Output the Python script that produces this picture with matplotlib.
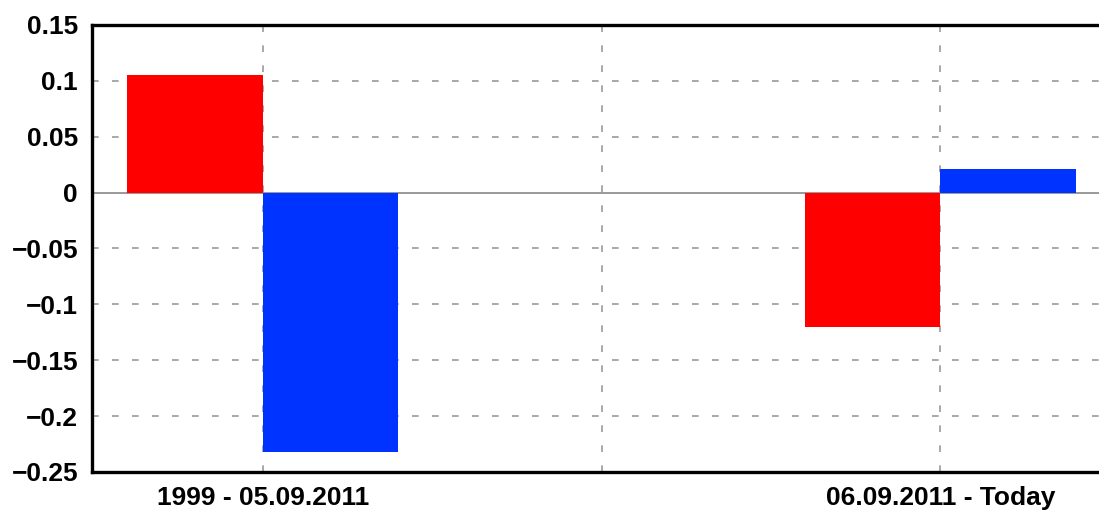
import matplotlib
matplotlib.use("Agg")
import matplotlib.pyplot as plt
import numpy as np

# Data
periods = ["1999 - 05.09.2011", "06.09.2011 - Today"]
red_vals = [0.105, -0.12]
blue_vals = [-0.232, 0.021]
yticks = [0.15, 0.1, 0.05, 0, -0.05, -0.1, -0.15, -0.2, -0.25]
ytick_labels = ["0.15", "0.1", "0.05", "0", "\u22120.05", "\u22120.1",
                "\u22120.15", "\u22120.2", "\u22120.25"]

plt.rcParams["font.family"] = ["Liberation Sans", "DejaVu Sans"]

fig = plt.figure(figsize=(10.99, 5.15), dpi=100)
ax = fig.add_axes([0.0837, 0.0835, 0.9163, 0.868])

x = np.arange(len(periods))
w = 0.2
ax.bar(x - w / 2, red_vals, width=w, color="#ff0000", zorder=3)
ax.bar(x + w / 2, blue_vals, width=w, color="#0033ff", zorder=3)

ax.axhline(0, color="#888888", lw=1.2, zorder=2)

for yv in yticks:
    if yv != 0:
        ax.axhline(yv, color="#999999", lw=1.2, dashes=(4, 8), zorder=1)
for xv in [0, 0.5, 1]:
    ax.axvline(xv, color="#999999", lw=1.2, dashes=(4, 8), zorder=1)

ax.set_xlim(-0.252, 1.234)
ax.set_ylim(-0.25, 0.15)
ax.set_xticks(x)
ax.set_xticklabels(periods, fontsize=19, fontweight="bold")
ax.set_yticks(yticks)
ax.set_yticklabels(ytick_labels, fontsize=19, fontweight="bold")
ax.tick_params(length=0, pad=10)

for s in ("left", "top", "bottom"):
    ax.spines[s].set_linewidth(2.4)
ax.spines["right"].set_visible(False)

fig.savefig("out.png", dpi=100)
